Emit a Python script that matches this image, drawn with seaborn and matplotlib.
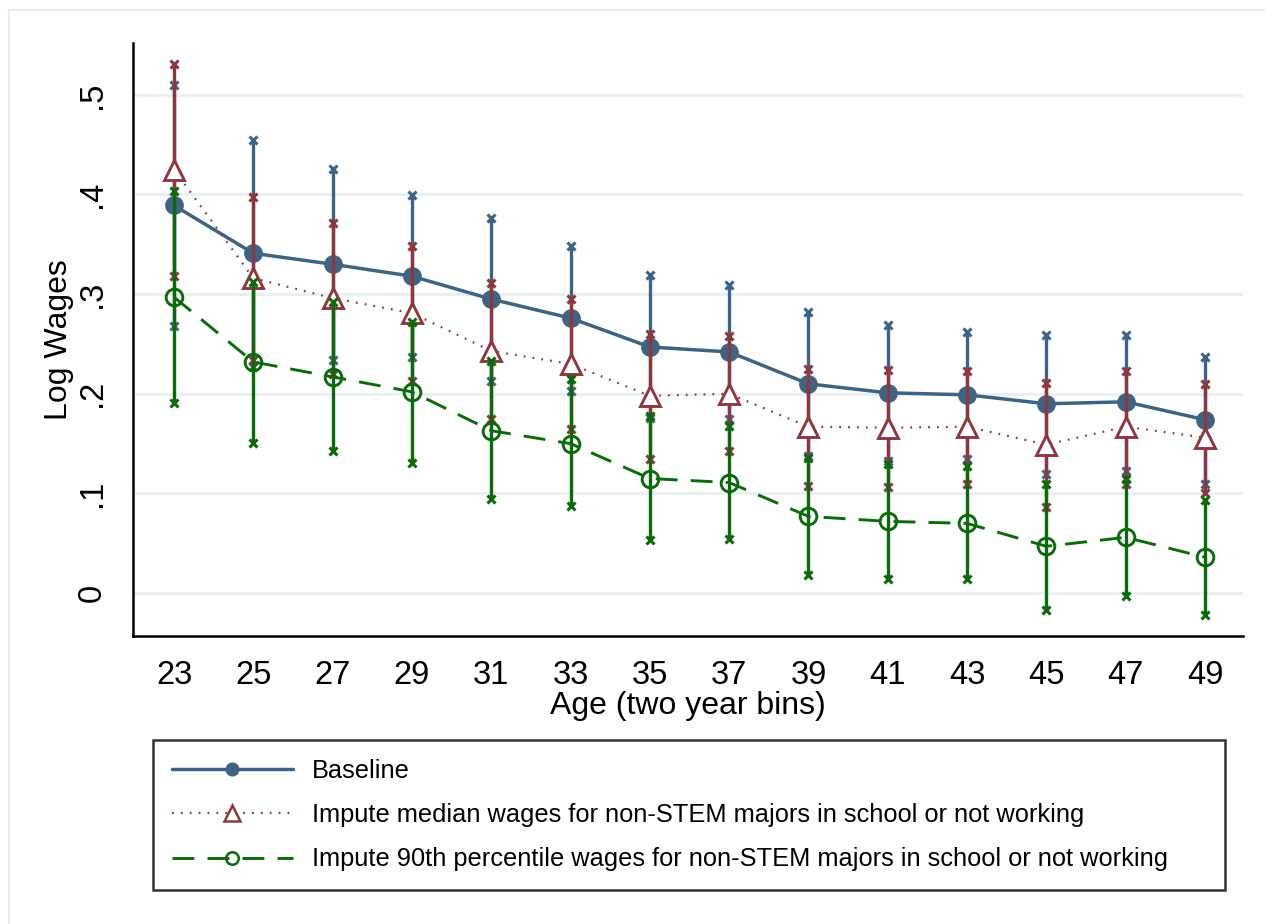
import numpy as np
import pandas as pd
import matplotlib
matplotlib.use("Agg")
import matplotlib.pyplot as plt
import seaborn as sns
from matplotlib.lines import Line2D
from matplotlib.patches import Rectangle

ages = [23, 25, 27, 29, 31, 33, 35, 37, 39, 41, 43, 45, 47, 49]

base_mean = [0.389, 0.341, 0.330, 0.318, 0.295, 0.276, 0.247, 0.242, 0.210, 0.201, 0.199, 0.190, 0.192, 0.174]
base_hi   = [0.510, 0.455, 0.426, 0.399, 0.376, 0.348, 0.319, 0.309, 0.282, 0.269, 0.262, 0.259, 0.259, 0.237]
base_lo   = [0.268, 0.227, 0.234, 0.237, 0.213, 0.203, 0.176, 0.175, 0.138, 0.133, 0.135, 0.120, 0.123, 0.110]

med_mean = [0.425, 0.316, 0.296, 0.281, 0.243, 0.230, 0.198, 0.200, 0.167, 0.166, 0.167, 0.149, 0.167, 0.156]
med_hi   = [0.531, 0.397, 0.371, 0.348, 0.311, 0.295, 0.260, 0.258, 0.225, 0.224, 0.223, 0.211, 0.223, 0.210]
med_lo   = [0.318, 0.234, 0.220, 0.213, 0.175, 0.165, 0.135, 0.143, 0.108, 0.107, 0.110, 0.086, 0.110, 0.100]

p90_mean = [0.297, 0.232, 0.217, 0.202, 0.163, 0.150, 0.115, 0.111, 0.077, 0.072, 0.070, 0.047, 0.056, 0.036]
p90_hi   = [0.404, 0.312, 0.292, 0.272, 0.233, 0.215, 0.178, 0.168, 0.136, 0.130, 0.128, 0.110, 0.115, 0.093]
p90_lo   = [0.191, 0.151, 0.143, 0.131, 0.094, 0.087, 0.053, 0.054, 0.018, 0.014, 0.014, -0.017, -0.003, -0.022]

labels = ["Baseline",
          "Impute median wages for non-STEM majors in school or not working",
          "Impute 90th percentile wages for non-STEM majors in school or not working"]
yticks = [0, 0.1, 0.2, 0.3, 0.4, 0.5]
ytick_labels = ["0", ".1", ".2", ".3", ".4", ".5"]

sns.set_style("white")
plt.rcParams["font.family"] = ["Liberation Sans", "DejaVu Sans"]
plt.rcParams["text.color"] = "black"
plt.rcParams["axes.labelcolor"] = "black"
plt.rcParams["xtick.color"] = "black"
plt.rcParams["ytick.color"] = "black"

BLUE = "#3F6382"
RED = "#8E3740"
GREEN = "#0B6B0B"

fig = plt.figure(figsize=(12.65, 9.24), dpi=100)
ax = fig.add_axes([133/1265, 1-636/924, (1243-133)/1265, (636-43)/924])

series = [
    dict(mean=base_mean, hi=base_hi, lo=base_lo, color=BLUE, marker="o", mfc=BLUE, ms=13.5,
         ls="-", lw=2.5, z=3),
    dict(mean=med_mean, hi=med_hi, lo=med_lo, color=RED, marker="^", mfc="white", ms=14.5,
         ls=(0, (0.8, 3.2)), lw=1.6, z=4),
    dict(mean=p90_mean, hi=p90_hi, lo=p90_lo, color=GREEN, marker="o", mfc="none", ms=12,
         ls=(0, (7.5, 4.5)), lw=2.1, z=5),
]

for yv in yticks:
    ax.axhline(yv, color="#E9F0F2", lw=2.2, zorder=0)

handles = []
for i, s in enumerate(series):
    df = pd.DataFrame({"age": ages, "val": s["mean"]})
    ax.vlines(ages, s["lo"], s["hi"], color=s["color"], lw=2.4, zorder=s["z"] + 0.5)
    ax.plot(ages, s["hi"], linestyle="none", marker="x", ms=5.5, mew=2.2,
            color=s["color"], zorder=s["z"] + 0.6)
    ax.plot(ages, s["lo"], linestyle="none", marker="x", ms=5.5, mew=2.2,
            color=s["color"], zorder=s["z"] + 0.6)
    sns.lineplot(data=df, x="age", y="val", ax=ax, color=s["color"],
                 linestyle=s["ls"], linewidth=s["lw"], zorder=s["z"])
    ax.plot(ages, s["mean"], linestyle="none", marker=s["marker"], ms=s["ms"],
            mfc=s["mfc"], mec=s["color"], mew=2.1 if s["mfc"] != BLUE else 0,
            zorder=s["z"] + 0.7)
    handles.append(Line2D([], [], color=s["color"], linestyle=s["ls"], linewidth=s["lw"],
                          marker=s["marker"], ms=s["ms"] * 0.75, mfc=s["mfc"],
                          mec=s["color"], mew=1.8 if s["mfc"] != BLUE else 0))

ax.set_xlim(23 - 41/39.65, 49 + 38/39.65)
ax.set_ylim(-0.043, 0.552)
ax.set_xticks(ages)
ax.set_xticklabels([str(a) for a in ages])
ax.set_yticks(yticks)
ax.set_yticklabels(ytick_labels, rotation=90, va="center")
ax.tick_params(axis="both", direction="out", length=12, width=1.6, colors="black",
               labelsize=23.5, pad=6)
ax.tick_params(axis="x", pad=5)
for side in ["top", "right"]:
    ax.spines[side].set_visible(False)
for side in ["left", "bottom"]:
    ax.spines[side].set_color("black")
    ax.spines[side].set_linewidth(1.8)
ax.set_xlabel("Age (two year bins)", fontsize=23, labelpad=0)
ax.set_ylabel("Log Wages", fontsize=23, labelpad=2)
ax.grid(False)

leg = fig.legend(handles, labels, loc="upper left",
                 bbox_to_anchor=(153/1265, 1-740/924, (1225-153)/1265, 0),
                 mode="expand", fontsize=18.3, frameon=True, fancybox=False,
                 edgecolor="black", handlelength=4.76, handletextpad=0.75,
                 labelspacing=0.8, borderpad=0.74, borderaxespad=0)
leg.get_frame().set_linewidth(1.8)
for t in leg.get_texts():
    t.set_color("black")

fig.patches.append(Rectangle((9/1265, -0.02), 1.05, 1-10/924 + 0.02,
                             transform=fig.transFigure, fill=False,
                             edgecolor="#E6EEEF", lw=1.5, zorder=-1))

fig.savefig("out.png", dpi=100)
